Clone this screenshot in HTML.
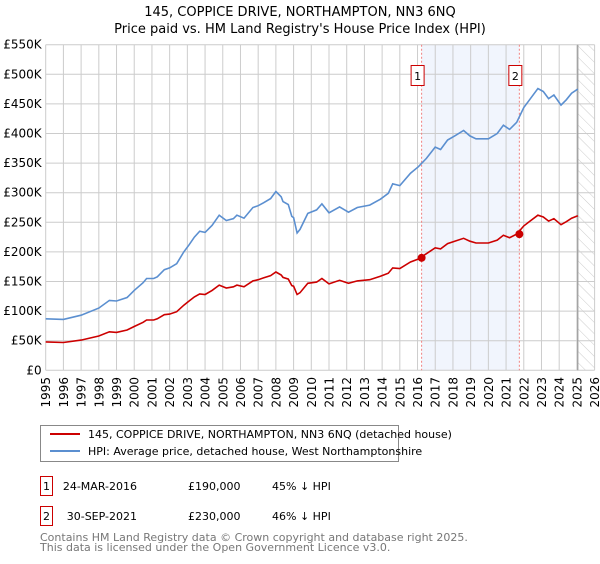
<!DOCTYPE html>
<html><head><meta charset="utf-8"><style>
body{margin:0;background:#fff;font-family:"DejaVu Sans","Liberation Sans",sans-serif;}
svg text{font-family:"DejaVu Sans","Liberation Sans",sans-serif;}
</style></head><body>
<svg id="c" width="600" height="560" viewBox="0 0 600 560">
<defs><pattern id="hatch" width="8" height="8" patternUnits="userSpaceOnUse" patternTransform="rotate(-45)"><line x1="0" y1="0" x2="0" y2="8" stroke="#ccc" stroke-width="1"/></pattern></defs>
<text x="300" y="16" text-anchor="middle" font-size="13">145, COPPICE DRIVE, NORTHAMPTON, NN3 6NQ</text>
<text x="300" y="33" text-anchor="middle" font-size="13">Price paid vs. HM Land Registry's House Price Index (HPI)</text>
<g id="grid"></g><g id="marks"></g>
<g>
<rect x="40.5" y="425.5" width="358" height="36" fill="#fff" stroke="#888"/>
<line x1="50" y1="434" x2="80" y2="434" stroke="#cc0000" stroke-width="2"/>
<text x="88" y="438" font-size="11">145, COPPICE DRIVE, NORTHAMPTON, NN3 6NQ (detached house)</text>
<line x1="50" y1="451" x2="80" y2="451" stroke="#5b8fd0" stroke-width="2"/>
<text x="88" y="455" font-size="11">HPI: Average price, detached house, West Northamptonshire</text>
</g>
<g>
<rect x="40.5" y="476.5" width="12" height="19" fill="#fff" stroke="#cc0000"/>
<text x="46.5" y="490" text-anchor="middle" font-size="11">1</text>
<text x="137" y="490" text-anchor="end" font-size="11">24-MAR-2016</text>
<text x="188" y="490" font-size="11">£190,000</text>
<text x="272" y="490" font-size="11">45% ↓ HPI</text>
</g>
<g>
<rect x="40.5" y="506.5" width="12" height="19" fill="#fff" stroke="#cc0000"/>
<text x="46.5" y="520" text-anchor="middle" font-size="11">2</text>
<text x="137" y="520" text-anchor="end" font-size="11">30-SEP-2021</text>
<text x="188" y="520" font-size="11">£230,000</text>
<text x="272" y="520" font-size="11">46% ↓ HPI</text>
</g>
<text x="40" y="541" font-size="11" fill="#777">Contains HM Land Registry data © Crown copyright and database right 2025.</text>
<text x="40" y="551" font-size="11" fill="#777">This data is licensed under the Open Government Licence v3.0.</text>
</svg>
<script>
const yTicks=[0,50,100,150,200,250,300,350,400,450,500,550];
const yTickLabels=["£0","£50K","£100K","£150K","£200K","£250K","£300K","£350K","£400K","£450K","£500K","£550K"];
const xYears=[1995,1996,1997,1998,1999,2000,2001,2002,2003,2004,2005,2006,2007,2008,2009,2010,2011,2012,2013,2014,2015,2016,2017,2018,2019,2020,2021,2022,2023,2024,2025,2026];
const dates=[1995,1996,1997,1998,1998.6,1999,1999.6,2000,2000.5,2000.7,2001.1,2001.3,2001.7,2002,2002.4,2002.8,2003.1,2003.4,2003.7,2004,2004.4,2004.8,2005.2,2005.6,2005.8,2006.2,2006.7,2007,2007.3,2007.7,2008,2008.3,2008.4,2008.7,2008.9,2009,2009.2,2009.36,2009.8,2010.3,2010.6,2011,2011.6,2012.1,2012.6,2013.3,2013.9,2014.35,2014.6,2015,2015.6,2016.05,2016.5,2017,2017.3,2017.7,2018.1,2018.6,2018.96,2019.3,2020,2020.5,2020.85,2021.2,2021.6,2022,2022.35,2022.8,2023.1,2023.4,2023.7,2024.1,2024.4,2024.7,2025.05];
const hpiValues=[87,86,93,105,118,117,123,135,148,155,155,158,170,173,180,200,212,225,235,233,245,262,253,256,262,257,275,278,283,290,302,293,285,280,260,258,232,238,265,271,281,266,276,267,275,279,289,299,315,312,333,344,358,377,373,389,396,405,396,391,391,400,414,407,419,444,458,476,471,459,465,448,457,468,475];
const priceValues=[48,47,51,58,65,64,68,74,81,85,85,87,94,95,99,110,117,124,129,128,135,144,139,141,144,141,151,153,156,160,166,161,157,154,143,142,128,131,147,149,155,146,152,147,151,153,159,164,173,172,183,188,197,207,205,214,218,223,218,215,215,220,228,224,230,244,252,262,259,252,256,246,251,257,261];
const saleDates=[2016.23,2021.75];
const saleValues=[190,230];
const saleLabels=["1","2"];
const dataEnd=2025.05;

const X0=45.7,X1=594.6,Y0=370.3,Y1=44.7;
const xs=y=>X0+(y-1995)/(2026-1995)*(X1-X0);
const ys=v=>Y0-v/550*(Y0-Y1);
const NS="http://www.w3.org/2000/svg";
function mk(tag,attrs,parent){const e=document.createElementNS(NS,tag);for(const k in attrs)e.setAttribute(k,attrs[k]);parent.appendChild(e);return e;}
const grid=document.getElementById('grid'),marks=document.getElementById('marks');

let r=mk('rect',{x:xs(saleDates[0]),y:Y1,width:xs(saleDates[1])-xs(saleDates[0]),height:Y0-Y1,fill:'#eef3fc',opacity:0.8},grid);


let h=mk('rect',{x:xs(dataEnd),y:Y1,width:X1-xs(dataEnd),height:Y0-Y1,fill:'url(#hatch)'},grid);


yTicks.forEach((t,i)=>{
  const l=mk('line',{x1:X0,x2:X1,y1:ys(t),y2:ys(t),stroke:'#ccc'},grid);
  
  
  const tx=mk('text',{x:X0-4,y:ys(t)+4,'text-anchor':'end','font-size':12},grid);
  tx.textContent=yTickLabels[i];
  
  
});
xYears.forEach(y=>{
  const l=mk('line',{x1:xs(y),x2:xs(y),y1:Y1,y2:Y0,stroke:'#ccc'},grid);
  
  
  const g=mk('g',{transform:'translate('+(xs(y)+4.5).toFixed(1)+',377) rotate(-90)'},grid);
  const tx=mk('text',{x:0,y:0,'text-anchor':'end','font-size':12},g);
  tx.textContent=String(y);
  
  
});
let el=mk('line',{x1:xs(dataEnd),x2:xs(dataEnd),y1:Y1,y2:Y0,stroke:'#999','stroke-width':1.2},grid);


saleDates.forEach((d,i)=>{
  const l=mk('line',{x1:xs(d),x2:xs(d),y1:Y1,y2:Y0,stroke:'#f08080','stroke-dasharray':'2,2'},grid);
  
  
  const b=mk('rect',{x:xs(d)-10.5,y:65.5,width:13,height:20,fill:'#fff',stroke:'#cc0000'},grid);
  
  
  const t=mk('text',{x:xs(d)-4,y:80,'text-anchor':'middle','font-size':11},grid);
  t.textContent=saleLabels[i];
  
  
});
const path=vals=>vals.map((v,i)=>(i?'L':'M')+xs(dates[i]).toFixed(1)+','+ys(v).toFixed(1)).join('');
let hp=mk('path',{d:path(hpiValues),fill:'none',stroke:'#5b8fd0','stroke-width':1.6},marks);


let pp=mk('path',{d:path(priceValues),fill:'none',stroke:'#cc0000','stroke-width':1.6},marks);


saleDates.forEach((d,i)=>{
  const c=mk('circle',{cx:xs(d),cy:ys(saleValues[i]),r:4,fill:'#cc0000'},marks);
  
  
});
</script>
</body></html>
